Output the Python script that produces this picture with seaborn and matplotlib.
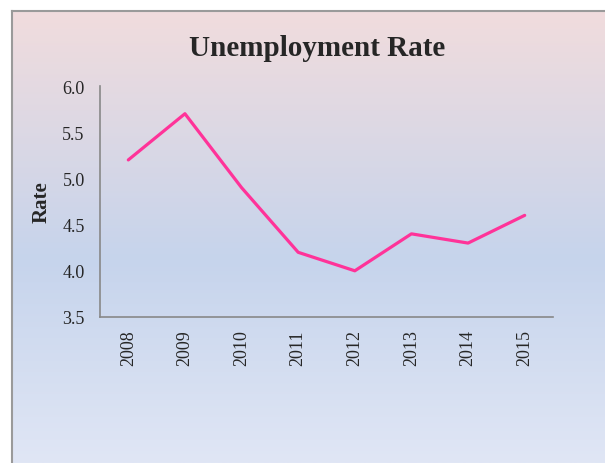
import numpy as np
import pandas as pd
import matplotlib
matplotlib.use('Agg')
import matplotlib.pyplot as plt
from matplotlib.colors import LinearSegmentedColormap
import seaborn as sns

years = ['2008', '2009', '2010', '2011', '2012', '2013', '2014', '2015']
rate = [5.2, 5.7, 4.9, 4.2, 4.0, 4.4, 4.3, 4.6]
y_ticks = [3.5, 4.0, 4.5, 5.0, 5.5, 6.0]

df = pd.DataFrame({'year': years, 'rate': rate})

sns.set_style('white')
plt.rcParams['font.family'] = ['Liberation Serif', 'DejaVu Serif']

W, H = 605, 464
fig = plt.figure(figsize=(W / 100, H / 100), dpi=100)
fig.patch.set_facecolor('white')

# gradient background panel, border only on top and left (runs off the image)
bg = fig.add_axes([12 / W, 0, 1 - 12 / W, 1 - 12 / H])
cmap = LinearSegmentedColormap.from_list(
    'bg', [(0.0, '#f1dcdd'), (0.55, '#c6d4ec'), (1.0, '#e0e6f5')])
grad = np.linspace(0, 1, 256).reshape(-1, 1)
bg.imshow(grad, aspect='auto', cmap=cmap, extent=[0, 1, 0, 1], origin='upper')
bg.set_xticks([])
bg.set_yticks([])
for side in ['right', 'bottom']:
    bg.spines[side].set_visible(False)
for side in ['top', 'left']:
    bg.spines[side].set_color('#9a9a9a')
    bg.spines[side].set_linewidth(1.5)
bg.set_zorder(0)

ax = fig.add_axes([100 / W, 1 - 318 / H, 453 / W, 231 / H])
ax.set_zorder(1)
ax.patch.set_alpha(0)
sns.lineplot(data=df, x='year', y='rate', color='#ff3399', linewidth=2.3, ax=ax)

ax.set_xlim(-0.5, len(years) - 0.5)
ax.set_ylim(3.5, 6.0)
ax.set_yticks(y_ticks)
ax.set_yticklabels([f'{v:.1f}' for v in y_ticks], fontsize=13)
ax.set_xticks(range(len(years)))
ax.set_xticklabels(years, rotation=90, fontsize=13)
ax.tick_params(axis='y', length=0, pad=11)
ax.tick_params(axis='x', length=0, pad=9)
ax.set_xlabel('')
ax.set_ylabel('Rate', fontsize=15, fontweight='bold', labelpad=8)
for side in ['top', 'right']:
    ax.spines[side].set_visible(False)
for side in ['left', 'bottom']:
    ax.spines[side].set_color('#888888')
    ax.spines[side].set_linewidth(1.2)

fig.text(317 / W, 1 - 49 / H, 'Unemployment Rate', ha='center', va='center',
         fontsize=21, fontweight='bold')

fig.savefig('out.png', dpi=100)
